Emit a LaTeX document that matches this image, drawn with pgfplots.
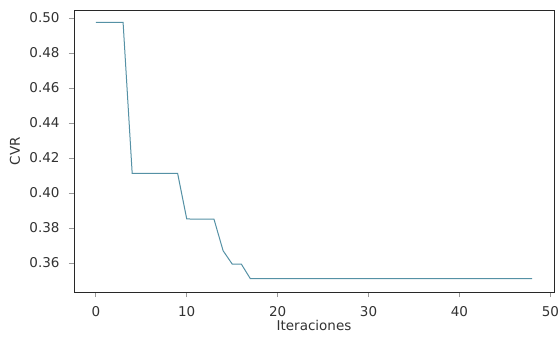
\documentclass[border=0pt]{standalone}
\usepackage{pgfplots}
\pgfplotsset{compat=1.18}
\usepackage{fontspec}
\setmainfont{DejaVu Sans}
\definecolor{linec}{RGB}{85,145,165}
\definecolor{axc}{RGB}{40,40,40}
\definecolor{txc}{RGB}{50,50,50}
\begin{document}
\begin{tikzpicture}[font=\fontsize{13.5bp}{16bp}\selectfont]
\useasboundingbox (-74bp,-48bp) rectangle (485bp,292bp);
\begin{axis}[
  at={(0,0)}, anchor=south west,
  scale only axis, width=480bp, height=282bp,
  xmin=-2.4, xmax=50.4, ymin=0.3434, ymax=0.5046,
  xtick={0,10,20,30,40,50},
  ytick={0.36,0.38,0.40,0.42,0.44,0.46,0.48,0.50},
  yticklabel style={/pgf/number format/fixed,/pgf/number format/fixed zerofill,/pgf/number format/precision=2, xshift=-6bp},
  xticklabel style={yshift=-6bp},
  /pgf/number format/assume math mode=true,
  tick align=outside, major tick length=5bp,
  xtick pos=bottom, ytick pos=left,
  axis line style={axc, line width=0.9bp},
  every tick/.style={gray!80, line width=0.8bp},
  ticklabel style={text=txc},
  xlabel={Iteraciones}, ylabel={CVR},
  every axis x label/.style={at={(axis description cs:0.5,-0.117)}, anchor=center, text=txc},
  every axis y label/.style={at={(axis description cs:-0.123,0.5)}, rotate=90, anchor=center, text=txc},
]
\addplot[linec, line width=1bp, mark=none] coordinates {
(0,0.4975)(1,0.4975)(2,0.4975)(3,0.4975)(4,0.4112)(5,0.4112)(6,0.4112)(7,0.4112)(8,0.4112)(9,0.4112)
(10,0.3852)(11,0.3850)(12,0.3850)(13,0.3850)(14,0.3670)(15,0.3594)(16,0.3594)(17,0.3510)
(18,0.3510)(19,0.3510)(20,0.3510)(21,0.3510)(22,0.3510)(23,0.3510)(24,0.3510)(25,0.3510)
(26,0.3510)(27,0.3510)(28,0.3510)(29,0.3510)(30,0.3510)(31,0.3510)(32,0.3510)(33,0.3510)
(34,0.3510)(35,0.3510)(36,0.3510)(37,0.3510)(38,0.3510)(39,0.3510)(40,0.3510)(41,0.3510)
(42,0.3510)(43,0.3510)(44,0.3510)(45,0.3510)(46,0.3510)(47,0.3510)(48,0.3510)
};
\end{axis}
\end{tikzpicture}
\end{document}
